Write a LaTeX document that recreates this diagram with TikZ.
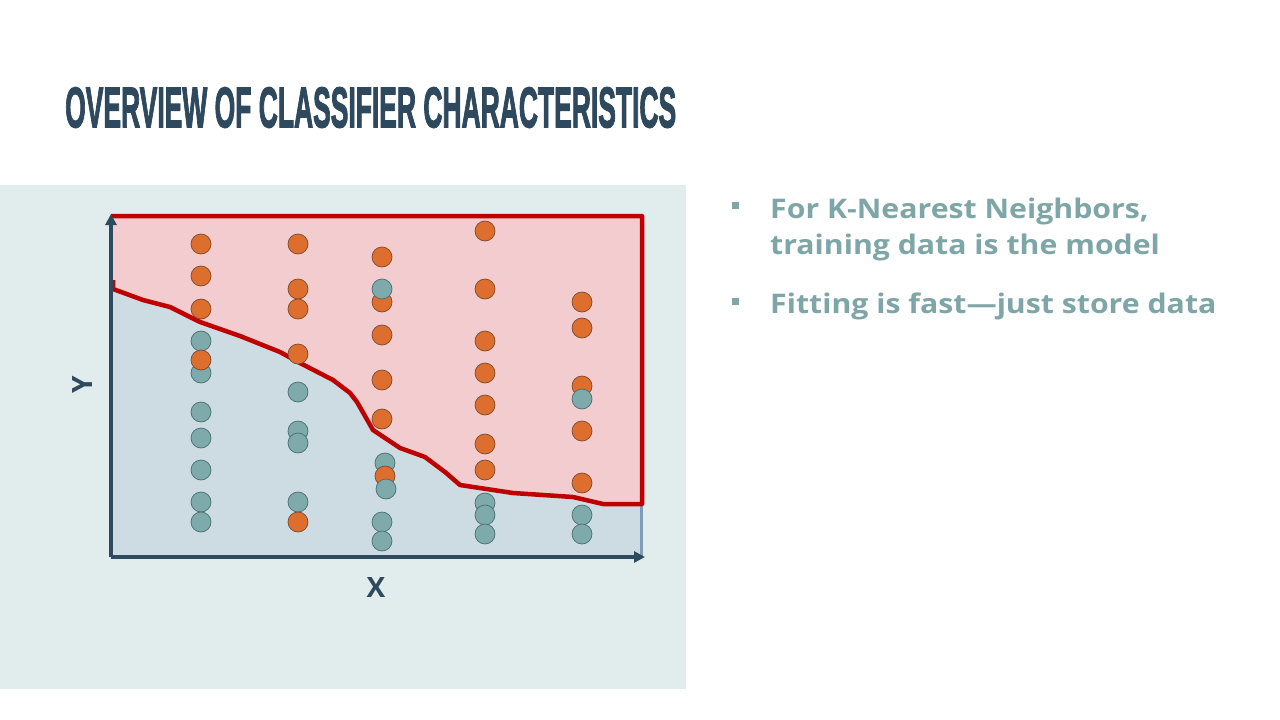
\documentclass[tikz,border=0pt]{standalone}
\usepackage{fontspec}
\usepackage{graphicx}
\setmainfont{Open Sans}
\newfontfamily\titlefont{Liberation Sans}[BoldFeatures={FakeBold=2.5}]
\newfontfamily\labfont{Open Sans}
\newfontfamily\bulfont{Open Sans}[BoldFeatures={FakeStretch=1.12}]
\usetikzlibrary{arrows.meta}
\definecolor{panel}{HTML}{E1ECEC}
\definecolor{pinkfill}{HTML}{F3CCCF}
\definecolor{bluefill}{HTML}{CCDCE2}
\definecolor{redline}{HTML}{BE0000}
\definecolor{axiscol}{HTML}{2F4A5E}
\definecolor{titlecol}{HTML}{2E485E}
\definecolor{bulletcol}{HTML}{7FA6A6}
\definecolor{orangedot}{HTML}{DE6E2D}
\definecolor{orangeedge}{HTML}{7A4A30}
\definecolor{tealdot}{HTML}{7FAAAC}
\definecolor{tealedge}{HTML}{4A6E70}
\definecolor{edgeblue}{HTML}{7F9DB9}
\begin{document}
\begin{tikzpicture}[x=1pt,y=-1pt,
  odot/.style={circle,fill=orangedot,draw=orangeedge,line width=0.7pt,minimum size=20pt,inner sep=0pt},
  tdot/.style={circle,fill=tealdot,draw=tealedge,line width=0.7pt,minimum size=20pt,inner sep=0pt},
  axis/.style={draw=axiscol,line width=3.5pt,-{Triangle[length=11pt,width=11pt]}},
  axlabel/.style={text=axiscol,font=\labfont\bfseries\fontsize{28}{30}\selectfont,inner sep=0pt},
  bultext/.style={text=bulletcol,font=\bulfont\bfseries\fontsize{27}{30}\selectfont,anchor=base west,inner sep=0pt},
  bulsq/.style={fill=bulletcol,minimum size=7pt,inner sep=0pt}]
\useasboundingbox (0,0) rectangle (1280,720);
\fill[white] (0,0) rectangle (1280,720);
% panel
\fill[panel] (0,185) rectangle (686,689);
% regions
\def\curve{(113,289) -- (143,300) -- (170,307) -- (200,322) -- (240,336) -- (280,352) -- (300,363) -- (333,380) -- (350,393) -- (357,402) -- (373,430) -- (400,448) -- (425,457) -- (445,472) -- (460,485) -- (513,493) -- (573,497) -- (603,504) -- (642,504)}
\fill[bluefill] \curve -- (642,556) -- (113,556) -- cycle;
\fill[pinkfill] (113,216) -- (642,216) -- (642,504) -- (603,504) -- (573,497) -- (513,493) -- (460,485) -- (445,472) -- (425,457) -- (400,448) -- (373,430) -- (357,402) -- (350,393) -- (333,380) -- (300,363) -- (280,352) -- (240,336) -- (200,322) -- (170,307) -- (143,300) -- (113,289) -- cycle;
\draw[edgeblue,line width=3pt] (641,504) -- (641,557);
\draw[redline,line width=4.5pt,line join=round] (113,280) -- \curve -- (642,216) -- (111,216);
% axes
\coordinate (origin) at (111,557);
\coordinate (ytip) at (111,214);
\coordinate (xtip) at (645,557);
\draw[axis] (origin) -- (ytip);
\draw[axis] (origin) -- (xtip);
\node[axlabel] (xl) at (376,587) {X};
\node[axlabel,rotate=90] (yl) at (83,385) {Y};
% dots column 1
\node[odot] (a1) at (201,244) {};
\node[odot] (a2) at (201,276) {};
\node[odot] (a3) at (201,309) {};
\node[tdot] (a4) at (201,373) {};
\node[tdot] (a5) at (201,341) {};
\node[odot] (a6) at (201,360) {};
\node[tdot] (a7) at (201,412) {};
\node[tdot] (a8) at (201,438) {};
\node[tdot] (a9) at (201,470) {};
\node[tdot] (a10) at (201,502) {};
\node[tdot] (a11) at (201,522) {};
% column 2
\node[odot] (b1) at (298,244) {};
\node[odot] (b2) at (298,289) {};
\node[odot] (b3) at (298,309) {};
\node[odot] (b4) at (298,354) {};
\node[tdot] (b5) at (298,392) {};
\node[tdot] (b6) at (298,431) {};
\node[tdot] (b7) at (298,443) {};
\node[tdot] (b8) at (298,502) {};
\node[odot] (b9) at (298,522) {};
% column 3
\node[odot] (c1) at (382,257) {};
\node[odot] (c2) at (382,302) {};
\node[tdot] (c3) at (382,289) {};
\node[odot] (c4) at (382,335) {};
\node[odot] (c5) at (382,380) {};
\node[odot] (c6) at (382,419) {};
\node[tdot] (c7) at (385,463) {};
\node[odot] (c8) at (385,476) {};
\node[tdot] (c9) at (386,489) {};
\node[tdot] (c10) at (382,522) {};
\node[tdot] (c11) at (382,541) {};
% column 4
\node[odot] (d1) at (485,231) {};
\node[odot] (d2) at (485,289) {};
\node[odot] (d3) at (485,341) {};
\node[odot] (d4) at (485,373) {};
\node[odot] (d5) at (485,405) {};
\node[odot] (d6) at (485,444) {};
\node[odot] (d7) at (485,470) {};
\node[tdot] (d8) at (485,503) {};
\node[tdot] (d9) at (485,515) {};
\node[tdot] (d10) at (485,534) {};
% column 5
\node[odot] (e1) at (582,302) {};
\node[odot] (e2) at (582,328) {};
\node[odot] (e3) at (582,386) {};
\node[tdot] (e4) at (582,399) {};
\node[odot] (e5) at (582,431) {};
\node[odot] (e6) at (582,483) {};
\node[tdot] (e7) at (582,515) {};
\node[tdot] (e8) at (582,534) {};
% title
\node[anchor=south west,inner sep=0pt,text=titlecol] (title) at (65,128)
  {\resizebox{611pt}{40pt}{\titlefont\bfseries OVERVIEW OF CLASSIFIER CHARACTERISTICS}};
% bullets
\node[bulsq] (sq1) at (735,205) {};
\node[bulsq] (sq2) at (735,301) {};
\node[bultext] (t1) at (770,218) {For K-Nearest Neighbors,};
\node[bultext] (t2) at (770,254) {training data is the model};
\node[bultext] (t3) at (770,313) {Fitting is fast—just store data};
\end{tikzpicture}
\end{document}
